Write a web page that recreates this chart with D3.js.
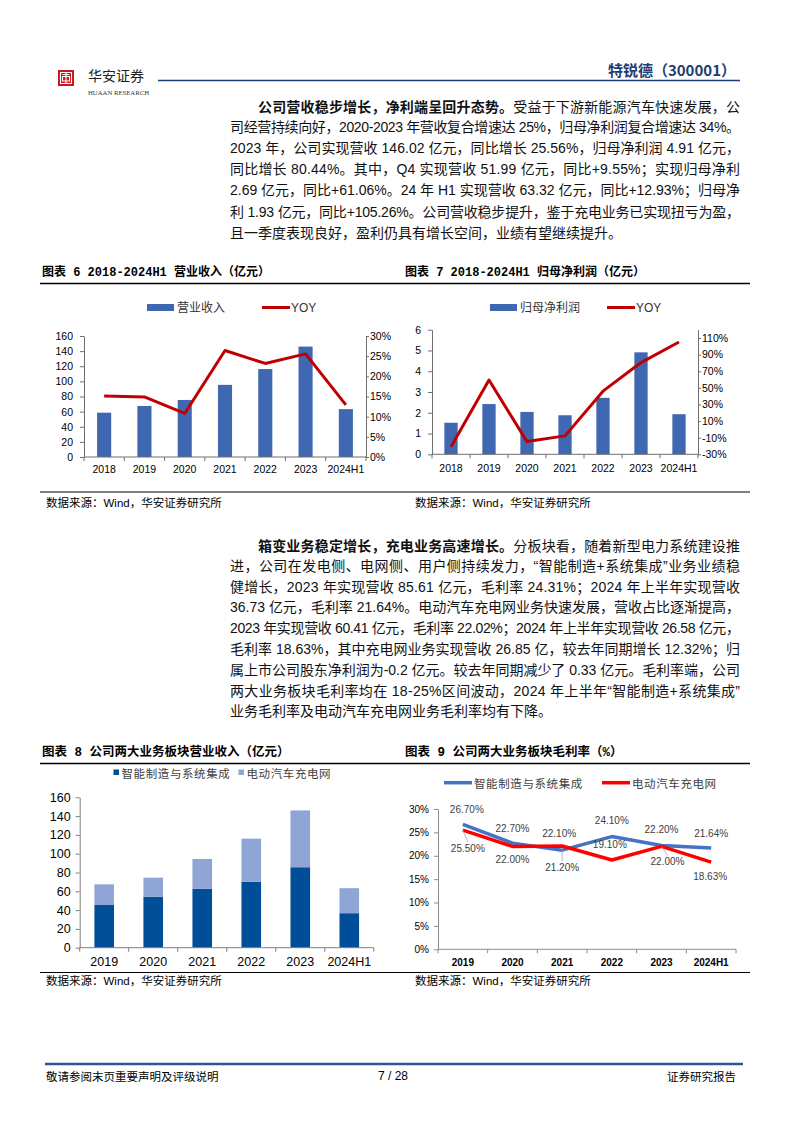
<!DOCTYPE html>
<html>
<head>
<meta charset="utf-8">
<script src="https://cdn.jsdelivr.net/npm/d3@7"></script>
<style>
  body { margin: 0; background: #fff; }
  #page { position: relative; width: 794px; height: 1123px; overflow: hidden;
          font-family: "Liberation Sans", "Noto Sans CJK SC", sans-serif; }
  #page svg { position: absolute; left: 0; top: 0; }
  .ln { position: absolute; white-space: nowrap; font-size: 14px; line-height: 20px; color: #111; }
  .ln b { font-family: "Noto Sans CJK SC", sans-serif; font-weight: 700; }
</style>
</head>
<body>
<div id="page"></div>
<script>
// ---- 数据 ----
var years = ['2018', '2019', '2020', '2021', '2022', '2023', '2024H1'];
var revenue = [58.6, 67.5, 75.4, 95.4, 116.3, 146.02, 63.32];          // 营业收入（亿元）
var revenueYoy = [15.1, 14.9, 10.8, 26.4, 23.2, 25.56, 12.93];          // %
var netProfit = [1.52, 2.42, 2.04, 1.88, 2.72, 4.91, 1.93];             // 归母净利润（亿元）
var netProfitYoy = [-21.0, 59.4, -14.7, -7.8, 46.0, 80.44, 105.26];     // %

var segYears = ['2019', '2020', '2021', '2022', '2023', '2024H1'];
var segNames = ['智能制造与系统集成', '电动汽车充电网'];
var smartRevenue = [45.4, 54.3, 62.8, 70.2, 85.61, 36.73];
var evRevenue = [22.0, 20.2, 31.6, 45.8, 60.41, 26.58];
var smartMargin = [26.70, 22.70, 21.20, 24.10, 22.20, 21.64];
var evMargin = [25.50, 22.00, 22.10, 19.10, 22.00, 18.63];

var ticksRev = [0, 20, 40, 60, 80, 100, 120, 140, 160];
var ticksRevYoy = [0, 5, 10, 15, 20, 25, 30];
var ticksProfit = [0, 1, 2, 3, 4, 5, 6];
var ticksProfitYoy = [-30, -10, 10, 30, 50, 70, 90, 110];
var ticksMargin = [0, 5, 10, 15, 20, 25, 30];

// ---- 正文 ----
var para1 = [
  { bold: '公司营收稳步增长，净利端呈回升态势。', text: '受益于下游新能源汽车快速发展，公', indent: 28 },
  { text: '司经营持续向好，2020-2023 年营收复合增速达 25%，归母净利润复合增速达 34%。' },
  { text: '2023 年，公司实现营收 146.02 亿元，同比增长 25.56%，归母净利润 4.91 亿元，' },
  { text: '同比增长 80.44%。其中，Q4 实现营收 51.99 亿元，同比+9.55%；实现归母净利' },
  { text: '2.69 亿元，同比+61.06%。24 年 H1 实现营收 63.32 亿元，同比+12.93%；归母净' },
  { text: '利 1.93 亿元，同比+105.26%。公司营收稳步提升，鉴于充电业务已实现扭亏为盈，' },
  { text: '且一季度表现良好，盈利仍具有增长空间，业绩有望继续提升。', last: true }
];
var para2 = [
  { bold: '箱变业务稳定增长，充电业务高速增长。', text: '分板块看，随着新型电力系统建设推', indent: 28 },
  { text: '进，公司在发电侧、电网侧、用户侧持续发力，“智能制造+系统集成”业务业绩稳' },
  { text: '健增长，2023 年实现营收 85.61 亿元，毛利率 24.31%；2024 年上半年实现营收' },
  { text: '36.73 亿元，毛利率 21.64%。电动汽车充电网业务快速发展，营收占比逐渐提高，' },
  { text: '2023 年实现营收 60.41 亿元，毛利率 22.02%；2024 年上半年实现营收 26.58 亿元，' },
  { text: '毛利率 18.63%，其中充电网业务实现营收 26.85 亿，较去年同期增长 12.32%；归' },
  { text: '属上市公司股东净利润为-0.2 亿元。较去年同期减少了 0.33 亿元。毛利率端，公司' },
  { text: '两大业务板块毛利率均在 18-25%区间波动，2024 年上半年“智能制造+系统集成”' },
  { text: '业务毛利率及电动汽车充电网业务毛利率均有下降。', last: true }
];

var FONT = '"Liberation Sans", "Noto Sans CJK SC", sans-serif';
var CJK = '"Noto Sans CJK SC", sans-serif';
var TITLE = '"Liberation Mono", "Noto Sans CJK SC", monospace';

var page = d3.select('#page');
var svg = page.append('svg').attr('width', 794).attr('height', 1123);

// ---- 页眉 ----
svg.append('rect').attr('x', 58).attr('y', 70).attr('width', 16).attr('height', 16).attr('fill', '#c8161d');
svg.append('path')
  .attr('d', 'M60.5 72.5H71.5V83.5H60.5Z M62.5 76.5H69.5V81H62.5Z M66 73V83 M62.5 74.5H69.5')
  .attr('stroke', '#fff').attr('stroke-width', 1.1).attr('fill', 'none');
svg.append('text').attr('x', 88).attr('y', 80.5).text('华安证券')
  .style('font-family', CJK).style('font-size', '14px').attr('fill', '#222');
svg.append('text').attr('x', 88).attr('y', 95).text('HUAAN RESEARCH')
  .attr('textLength', 61).attr('lengthAdjust', 'spacingAndGlyphs')
  .style('font-family', '"Liberation Serif", serif').style('font-size', '7px').attr('fill', '#333');
svg.append('line').attr('x1', 158).attr('x2', 740).attr('y1', 80.5).attr('y2', 80.5)
  .attr('stroke', '#1f3c74').attr('stroke-width', 1.3);
svg.append('text').attr('x', 736).attr('y', 75.5).attr('text-anchor', 'end').text('特锐德（300001）')
  .style('font-family', CJK).style('font-weight', 700).style('font-size', '15px').attr('fill', '#1f3c74');

// ---- 正文段落（两端对齐）----
function drawLines(lines, x, w, top, step) {
  lines.forEach(function(l, i) {
    var ind = l.indent || 0;
    var div = page.append('div').attr('class', 'ln')
      .style('left', (x + ind) + 'px').style('top', (top + i * step - 10) + 'px');
    if (l.bold) div.append('b').text(l.bold);
    div.append('span').text(l.text);
    if (!l.last) {
      var nw = div.node().getBoundingClientRect().width;
      var n = (l.bold || '').length + l.text.length;
      div.style('letter-spacing', ((w - ind - nw) / (n - 1)) + 'px');
    }
  });
}
drawLines(para1, 230, 510, 106, 21.1);
drawLines(para2, 230, 510, 545, 20.8);

// ---- 图表标题 / 来源 ----
function frameText(x, y, t, font, size, weight) {
  svg.append('text').attr('x', x).attr('y', y).attr('dominant-baseline', 'central').text(t)
    .style('font-family', font).style('font-size', size + 'px').style('font-weight', weight).attr('fill', '#000');
}
function hline(y, w) {
  svg.append('line').attr('x1', 40).attr('x2', 750).attr('y1', y).attr('y2', y)
    .attr('stroke', '#000').attr('stroke-width', w);
}
frameText(42, 273, '图表 6 2018-2024H1 营业收入（亿元）', TITLE, 12, 700);
frameText(405, 273, '图表 7 2018-2024H1 归母净利润（亿元）', TITLE, 12, 700);
hline(283.5, 1.4);
hline(492, 1.2);
frameText(46, 503, '数据来源：Wind，华安证券研究所', FONT, 11.5, 400);
frameText(415, 503, '数据来源：Wind，华安证券研究所', FONT, 11.5, 400);

frameText(42, 753, '图表 8 公司两大业务板块营业收入（亿元）', TITLE, 12.5, 700);
frameText(405, 753, '图表 9  公司两大业务板块毛利率（%）', TITLE, 12.5, 700);
hline(763.5, 1.4);
hline(972.5, 1.2);
frameText(46, 981, '数据来源：Wind，华安证券研究所', FONT, 11.5, 400);
frameText(415, 981, '数据来源：Wind，华安证券研究所', FONT, 11.5, 400);

// ---- 通用 ----
function styleAxis(g, color, size, weight) {
  g.attr('font-family', null).attr('font-size', null);
  g.selectAll('path,line').attr('stroke', color);
  g.selectAll('text').attr('fill', '#000').style('font-size', size + 'px')
    .style('font-family', FONT).style('font-weight', weight || 400);
}
function bandAxis(g, x, yB, color, labelDy, size, weight) {
  var r = x.range();
  g.append('line').attr('x1', r[0]).attr('x2', r[1]).attr('y1', yB).attr('y2', yB).attr('stroke', color);
  var bounds = x.domain().map(function(c) { return x(c); }).concat([r[1]]);
  g.selectAll('line.xt').data(bounds).join('line').attr('class', 'xt')
    .attr('x1', function(d) { return d; }).attr('x2', function(d) { return d; })
    .attr('y1', yB).attr('y2', yB + 4).attr('stroke', color);
  g.selectAll('text.xl').data(x.domain()).join('text').attr('class', 'xl')
    .attr('x', function(d) { return x(d) + x.bandwidth() / 2; }).attr('y', yB + labelDy)
    .attr('text-anchor', 'middle').attr('dominant-baseline', 'central')
    .style('font-family', FONT).style('font-size', size + 'px').style('font-weight', weight || 400)
    .text(function(d) { return d; });
}

// ---- 图表 6 / 7：柱 + 折线 ----
function comboChart(o) {
  var g = svg.append('g');
  var x = d3.scaleBand().domain(o.cats).range([o.x0, o.x1]);
  var yL = d3.scaleLinear().domain(o.domL).range([o.yB, o.yT]);
  var yR = d3.scaleLinear().domain(o.domR).range([o.yB, o.yT]);
  var bw = x.bandwidth() * 0.35;
  var axisColor = '#6f6f6f';

  g.append('g').attr('transform', 'translate(' + o.x0 + ',0)')
    .call(d3.axisLeft(yL).tickValues(o.ticksL).tickSize(4).tickSizeOuter(0).tickPadding(o.padL)
      .tickFormat(d3.format('d')))
    .call(styleAxis, axisColor, 10.5);
  g.append('g').attr('transform', 'translate(' + o.x1 + ',0)')
    .call(d3.axisRight(yR).tickValues(o.ticksR).tickSize(3).tickSizeOuter(0).tickPadding(1)
      .tickFormat(function(d) { return d + '%'; }))
    .call(styleAxis, axisColor, 10.5);

  g.selectAll('rect.bar').data(o.bars).join('rect').attr('class', 'bar')
    .attr('x', function(d, i) { return x(o.cats[i]) + (x.bandwidth() - bw) / 2; })
    .attr('width', bw)
    .attr('y', function(d) { return yL(Math.max(0, d)); })
    .attr('height', function(d) { return yL(0) - yL(d); })
    .attr('fill', '#4068b2');

  bandAxis(g, x, o.yB, axisColor, o.labelDy, 10.5);

  var line = d3.line()
    .x(function(d, i) { return x(o.cats[i]) + x.bandwidth() / 2; })
    .y(function(d) { return yR(d); });
  g.append('path').datum(o.line).attr('d', line)
    .attr('fill', 'none').attr('stroke', '#c00000').attr('stroke-width', 3).attr('stroke-linejoin', 'round');

  // 图例
  var lg = g.append('g').style('font-family', FONT).style('font-size', '12px');
  lg.append('rect').attr('x', o.leg[0]).attr('y', o.legY - 3.5).attr('width', 27).attr('height', 7).attr('fill', '#4068b2');
  lg.append('text').attr('x', o.leg[0] + 30).attr('y', o.legY).attr('dominant-baseline', 'central')
    .attr('fill', '#333').text(o.barName);
  lg.append('line').attr('x1', o.leg[1]).attr('x2', o.leg[1] + 28).attr('y1', o.legY).attr('y2', o.legY)
    .attr('stroke', '#c00000').attr('stroke-width', 3);
  lg.append('text').attr('x', o.leg[1] + 29).attr('y', o.legY).attr('dominant-baseline', 'central')
    .attr('fill', '#333').text('YOY');
}

comboChart({
  cats: years, bars: revenue, line: revenueYoy, barName: '营业收入',
  x0: 84, x1: 366, yB: 457, yT: 336,
  domL: [0, 160], domR: [0, 30], ticksL: ticksRev, ticksR: ticksRevYoy,
  padL: 7, labelDy: 12, leg: [147, 262], legY: 307.5
});
comboChart({
  cats: years, bars: netProfit, line: netProfitYoy, barName: '归母净利润',
  x0: 432, x1: 698, yB: 454.3, yT: 329.7,
  domL: [0, 6], domR: [-30, 120], ticksL: ticksProfit, ticksR: ticksProfitYoy,
  padL: 7, labelDy: 13.7, leg: [490, 607], legY: 307.5
});

// ---- 图表 8：堆积柱 ----
(function() {
  var g = svg.append('g');
  var axisColor = '#7f7f7f';
  var table = segYears.map(function(y, i) { return { year: y, smart: smartRevenue[i], ev: evRevenue[i] }; });
  var stack = d3.stack().keys(['smart', 'ev'])(table);
  var colors = ['#004e97', '#8fa5d5'];
  var x = d3.scaleBand().domain(segYears).range([79.7, 373.8]);
  var y = d3.scaleLinear().domain([0, 160]).range([947.7, 797.3]);
  var bw = x.bandwidth() * 0.4;

  g.append('g').attr('transform', 'translate(79.7,0)')
    .call(d3.axisLeft(y).tickValues(ticksRev).tickSize(4).tickSizeOuter(0).tickPadding(5))
    .call(styleAxis, axisColor, 12.5);

  g.selectAll('g.s').data(stack).join('g').attr('class', 's')
    .attr('fill', function(d, i) { return colors[i]; })
    .selectAll('rect').data(function(d) { return d; }).join('rect')
    .attr('x', function(d) { return x(d.data.year) + (x.bandwidth() - bw) / 2; })
    .attr('width', bw)
    .attr('y', function(d) { return y(d[1]); })
    .attr('height', function(d) { return y(d[0]) - y(d[1]); });

  bandAxis(g, x, 947.7, axisColor, 14, 12.5);

  var lg = g.append('g').style('font-family', CJK).style('font-size', '11.5px').attr('fill', '#404040');
  [[113.5, 121.5], [238.5, 246.5]].forEach(function(p, i) {
    lg.append('rect').attr('x', p[0]).attr('y', 769.5).attr('width', 5.5).attr('height', 5.5).attr('fill', colors[i]);
    lg.append('text').attr('x', p[1]).attr('y', 772.5).attr('dominant-baseline', 'central')
      .style('letter-spacing', '0.6px').text(segNames[i]);
  });
})();

// ---- 图表 9：毛利率折线 ----
(function() {
  var g = svg.append('g');
  var axisColor = '#8c8c8c';
  var x = d3.scaleBand().domain(segYears).range([438, 736]);
  var y = d3.scaleLinear().domain([0, 30]).range([949.3, 809]);
  var cx = function(i) { return x(segYears[i]) + x.bandwidth() / 2; };
  var series = [
    { name: segNames[0], values: smartMargin, color: '#4472c4',
      dx: [4, 0, 0, 0, 0, 0], dy: [-15, -15, 17, -16, -16, -15], leader: [0, 0, 1, 0, 0, 0] },
    { name: segNames[1], values: evMargin, color: '#ff0000',
      dx: [5, 0, -3, -2, 6, -1], dy: [18, 13, -12, -15, 15, 14], leader: [1, 0, 0, 0, 1, 0] }
  ];

  g.append('g').attr('transform', 'translate(438,0)')
    .call(d3.axisLeft(y).tickValues(ticksMargin).tickSize(4).tickSizeOuter(0).tickPadding(5)
      .tickFormat(function(d) { return d + '%'; }))
    .call(styleAxis, axisColor, 10);

  bandAxis(g, x, 949.3, axisColor, 13.4, 10, 700);

  var line = d3.line().x(function(d, i) { return cx(i); }).y(function(d) { return y(d); });
  series.forEach(function(s) {
    g.append('path').datum(s.values).attr('d', line)
      .attr('fill', 'none').attr('stroke', s.color).attr('stroke-width', 3.5).attr('stroke-linejoin', 'round');
  });

  series.forEach(function(s) {
    s.values.forEach(function(v, i) {
      var px = cx(i), py = y(v), lx = px + s.dx[i], ly = py + s.dy[i];
      if (s.leader[i]) {
        g.append('line').attr('x1', px).attr('y1', py).attr('x2', lx).attr('y2', ly - Math.sign(s.dy[i]) * 6)
          .attr('stroke', '#a6a6a6').attr('stroke-width', 0.8);
      }
      g.append('text').attr('x', lx).attr('y', ly).attr('text-anchor', 'middle').attr('dominant-baseline', 'central')
        .style('font-family', FONT).style('font-size', '10px').attr('fill', '#404040')
        .text(v.toFixed(2) + '%');
    });
  });

  var lg = g.append('g').style('font-family', CJK).style('font-size', '11.5px').attr('fill', '#404040');
  [[444, 474], [602, 632]].forEach(function(p, i) {
    lg.append('line').attr('x1', p[0]).attr('x2', p[0] + 28).attr('y1', 782.7).attr('y2', 782.7)
      .attr('stroke', series[i].color).attr('stroke-width', 3.5);
    lg.append('text').attr('x', p[1]).attr('y', 782.7).attr('dominant-baseline', 'central')
      .style('letter-spacing', '0.6px').text(series[i].name);
  });
})();

// ---- 页脚 ----
svg.append('line').attr('x1', 45).attr('x2', 743).attr('y1', 1064).attr('y2', 1064)
  .attr('stroke', '#2f5597').attr('stroke-width', 2.5);
svg.append('text').attr('x', 46).attr('y', 1076).attr('dominant-baseline', 'central')
  .style('font-family', CJK).style('font-size', '11.5px').text('敬请参阅末页重要声明及评级说明');
svg.append('text').attr('x', 393).attr('y', 1076).attr('dominant-baseline', 'central').attr('text-anchor', 'middle')
  .style('font-family', FONT).style('font-size', '12px').text('7 / 28');
svg.append('text').attr('x', 736).attr('y', 1076).attr('dominant-baseline', 'central').attr('text-anchor', 'end')
  .style('font-family', CJK).style('font-size', '11.5px').text('证券研究报告');
</script>
</body>
</html>
